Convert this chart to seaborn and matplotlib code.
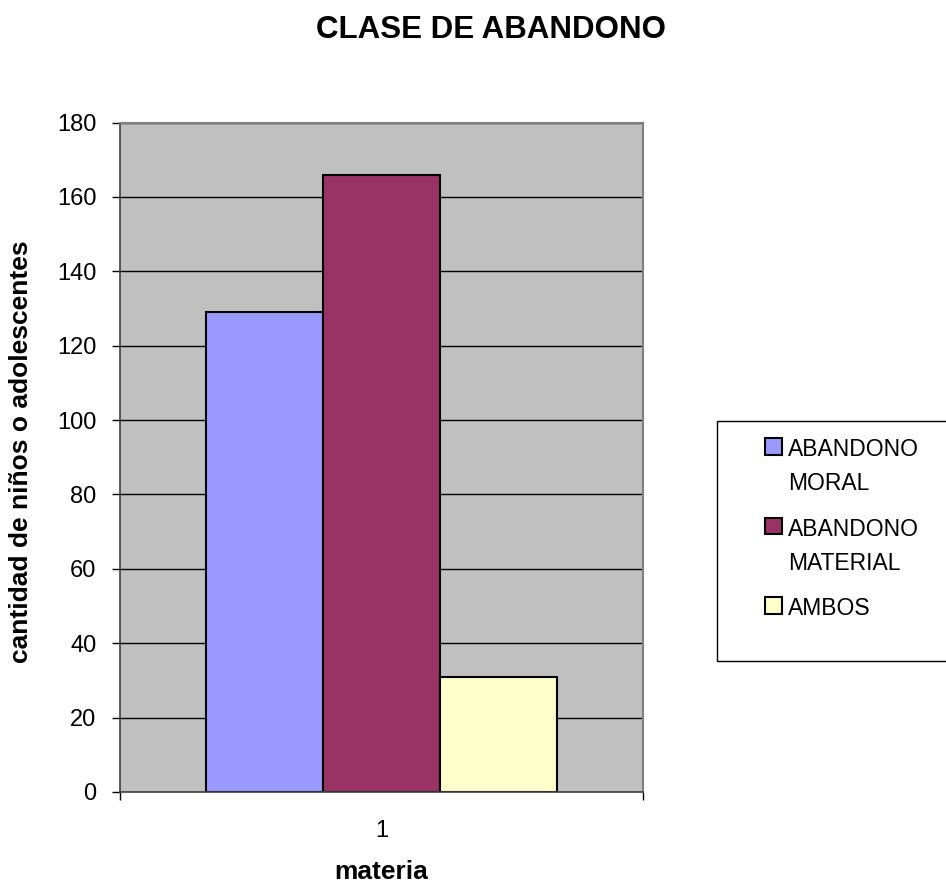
import pandas as pd
import matplotlib.pyplot as plt
import seaborn as sns
from matplotlib.patches import Rectangle

# data
categoria = ["1", "1", "1"]
clases = ["ABANDONO\nMORAL", "ABANDONO\nMATERIAL", "AMBOS"]
cantidades = [129, 166, 31]
colores = ["#9999FF", "#993366", "#FFFFCC"]
yticks = [0, 20, 40, 60, 80, 100, 120, 140, 160, 180]

df = pd.DataFrame({"materia": categoria, "clase": clases, "cantidad": cantidades})

sns.set_style("white")
plt.rcParams["font.family"] = ["Liberation Sans", "DejaVu Sans"]
plt.rcParams["text.color"] = "black"
plt.rcParams["axes.labelcolor"] = "black"
plt.rcParams["xtick.color"] = "black"
plt.rcParams["ytick.color"] = "black"

fig = plt.figure(figsize=(9.46, 8.85), dpi=100)
ax = fig.add_axes([120 / 946, 1 - 792 / 885, 523 / 946, 669.5 / 885])
ax.set_facecolor("#C0C0C0")

sns.barplot(data=df, x="materia", y="cantidad", hue="clase", palette=colores,
            width=0.67, saturation=1, edgecolor="black", linewidth=1.5, ax=ax)

ax.set_xlim(-0.5, 0.5)
ax.set_ylim(0, 180)
ax.set_yticks(yticks)
ax.yaxis.grid(True, color="black", linewidth=1)
ax.set_axisbelow(True)

# excel-like ticks: outside on y, category borders on x
ax.tick_params(axis="y", direction="out", length=6, width=1, pad=11, labelsize=17, left=True)
ax.tick_params(axis="x", which="major", length=0, pad=20, labelsize=17)
ax.set_xticks([-0.5, 0.5], minor=True)
ax.tick_params(axis="x", which="minor", direction="out", length=6, width=1, bottom=True)

for s in ["left", "bottom"]:
    ax.spines[s].set_color("#404040")
    ax.spines[s].set_linewidth(1.2)
for s in ["top", "right"]:
    ax.spines[s].set_color("#808080")
    ax.spines[s].set_linewidth(1.5)

ax.set_xlabel("materia", fontsize=19, fontweight="bold")
ax.xaxis.set_label_coords(0.5, (792 - 879) / 669.5)
ax.xaxis.label.set_va("baseline")
ax.set_ylabel("cantidad de niños o adolescentes", fontsize=19, fontweight="bold")
ax.yaxis.set_label_coords((33 - 120) / 523, (792 - 452) / 669.5)

fig.text(491 / 946, 1 - 30 / 885, "CLASE DE ABANDONO", fontsize=22.5, fontweight="bold",
         ha="center", va="center")

# legend
ax.legend_.remove()
handles, labels = ax.get_legend_handles_labels()
leg = fig.legend(handles, labels, loc="upper left", bbox_to_anchor=(765 / 946, 1 - 438 / 885),
                 frameon=False, fontsize=16.5, handlelength=0.74, handleheight=0.74,
                 handletextpad=0.28, labelspacing=1.0, borderpad=0, borderaxespad=0)
for t in leg.get_texts():
    t.set_linespacing(1.6)
for col in leg._legend_handle_box.get_children():
    for item in col.get_children():
        item.align = "top"
for h in leg.legend_handles:
    h.set_edgecolor("black")
    h.set_linewidth(1.5)

fig.patches.append(Rectangle((717 / 946, 1 - 661 / 885), 260 / 946, 240 / 885,
                             transform=fig.transFigure, facecolor="none",
                             edgecolor="black", linewidth=1))

fig.savefig("out.png", dpi=100)
